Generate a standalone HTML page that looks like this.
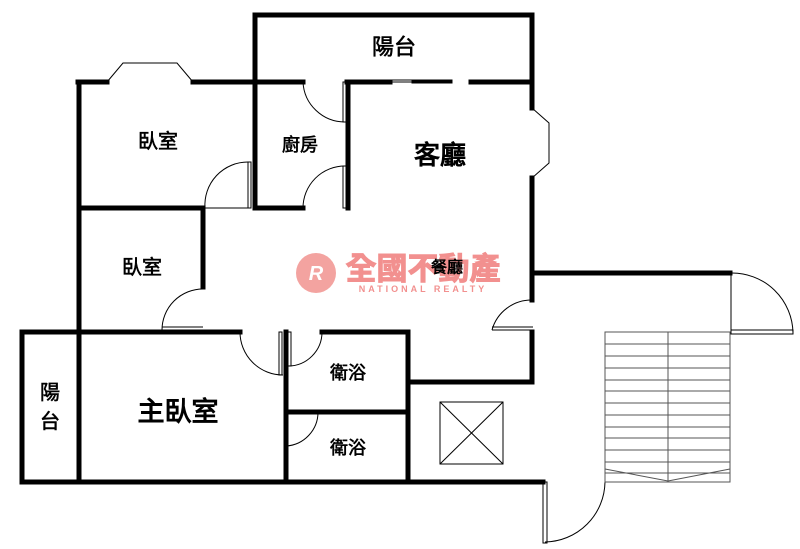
<!DOCTYPE html>
<html><head><meta charset="utf-8"><style>
html,body{margin:0;padding:0;background:#fff;}
svg{display:block}
text{font-family:"Liberation Sans","Noto Sans CJK TC",sans-serif;fill:#000;text-anchor:middle;dominant-baseline:central}
.l{stroke:#000;stroke-width:0.6}
</style></head><body>
<svg width="800" height="549" viewBox="0 0 800 549" xmlns="http://www.w3.org/2000/svg">
<g stroke="#000" stroke-width="5" fill="none" stroke-linecap="square">
<polyline points="255,82 255,15 532,15 532,108"/>
<line x1="78" y1="82" x2="107" y2="82"/>
<line x1="193" y1="82" x2="303" y2="82"/>
<line x1="347" y1="82" x2="390" y2="82"/>
<line x1="471" y1="82" x2="532" y2="82"/>
<line x1="79" y1="82" x2="79" y2="330"/>
<line x1="79" y1="208" x2="203" y2="208"/>
<line x1="255" y1="82" x2="255" y2="208"/>
<line x1="255" y1="208" x2="303" y2="208"/>
<line x1="348" y1="82" x2="348" y2="208"/>
<line x1="203" y1="208" x2="203" y2="287"/>
<line x1="532" y1="178" x2="532" y2="300"/>
<line x1="532" y1="332" x2="532" y2="382"/>
<line x1="532" y1="273" x2="730" y2="273"/>
<line x1="408" y1="382" x2="532" y2="382"/>
<line x1="22" y1="332" x2="240" y2="332"/>
<line x1="22" y1="332" x2="22" y2="482"/>
<line x1="79" y1="332" x2="79" y2="482"/>
<line x1="22" y1="482" x2="543" y2="482"/>
<line x1="286" y1="332" x2="286" y2="482"/>
<line x1="322" y1="332" x2="408" y2="332"/>
<line x1="408" y1="332" x2="408" y2="482"/>
<line x1="286" y1="412" x2="408" y2="412"/>
</g>
<g stroke="#000" stroke-width="1" fill="none">
<polyline points="107,82 123,63 177,63 193,82"/>
<polyline points="532,108 549,123 549,163 532,178"/>
<rect x="392" y="80" width="60" height="2"/>
<rect x="412" y="81" width="40" height="2"/>
<path d="M303,82 A42,42 0 0 0 345,122"/><rect x="343" y="82" width="3" height="40"/>
<path d="M303,208 A42,42 0 0 1 345,166"/><rect x="343" y="166" width="3" height="42"/>
<path d="M205,208 A43,43 0 0 1 248,162"/><rect x="248" y="162" width="3" height="46"/><line x1="205" y1="208" x2="248" y2="208"/>
<path d="M162,330 A41,41 0 0 1 203,289"/><line x1="162" y1="327" x2="203" y2="327"/><line x1="162" y1="330" x2="203" y2="330"/>
<path d="M240,332 A43,43 0 0 0 283,375"/><rect x="279" y="332" width="3" height="43"/>
<path d="M322,332 A34,34 0 0 1 288,366"/><rect x="288" y="332" width="3" height="34"/>
<path d="M318,412 A34,34 0 0 1 286,446"/>
<path d="M532,300 A41,41 0 0 0 492,330"/><line x1="492" y1="327" x2="533" y2="327"/><line x1="492" y1="330" x2="533" y2="330"/>
<path d="M731,273 A61,61 0 0 1 793,333"/><rect x="731" y="330" width="62" height="4"/><line x1="731" y1="273" x2="731" y2="333"/>
<path d="M605,482 A61,61 0 0 1 545,542"/><rect x="543" y="482" width="4" height="61"/>
<rect x="440" y="402" width="63" height="62"/>
<line x1="440" y1="402" x2="503" y2="464"/><line x1="503" y1="402" x2="440" y2="464"/>
</g>
<g stroke="#555" stroke-width="1" fill="none">
<rect x="605" y="332" width="125" height="150"/>
<line x1="668" y1="332" x2="668" y2="482"/>
<line x1="605" y1="344" x2="730" y2="344"/><line x1="605" y1="356" x2="730" y2="356"/>
<line x1="605" y1="368" x2="730" y2="368"/><line x1="605" y1="380" x2="730" y2="380"/>
<line x1="605" y1="391" x2="730" y2="391"/><line x1="605" y1="403" x2="730" y2="403"/>
<line x1="605" y1="415" x2="730" y2="415"/><line x1="605" y1="427" x2="730" y2="427"/>
<line x1="605" y1="438" x2="730" y2="438"/><line x1="605" y1="450" x2="730" y2="450"/>
<line x1="605" y1="462" x2="730" y2="462"/><line x1="605" y1="473" x2="730" y2="473"/>
<polyline points="605,469 668,481 730,469"/>
</g>
<circle cx="316" cy="273" r="20" fill="#f3a3a0"/>
<text x="316" y="274" font-size="20" font-weight="bold" font-style="italic" style="fill:#fff">R</text>
<text x="423" y="269" font-size="31" font-weight="bold" style="fill:#f2908f;stroke:#f2908f;stroke-width:1">全國不動產</text>
<text x="423" y="289" font-size="9" font-weight="bold" letter-spacing="3" style="fill:#f2908f">NATIONAL REALTY</text>
<g class="l">
<text x="394" y="47" font-size="22">陽台</text>
<text x="158" y="142" font-size="20">臥室</text>
<text x="300" y="145" font-size="18">廚房</text>
<text x="440" y="155" font-size="26" style="stroke-width:1">客廳</text>
<text x="142" y="268" font-size="20">臥室</text>
<text x="447" y="268" font-size="16">餐廳</text>
<text x="178" y="412" font-size="27" style="stroke-width:1">主臥室</text>
<text x="50" y="393" font-size="20">陽</text>
<text x="50" y="422" font-size="20">台</text>
<text x="348" y="373" font-size="18">衛浴</text>
<text x="348" y="448" font-size="18">衛浴</text>
</g>
</svg>
</body></html>
